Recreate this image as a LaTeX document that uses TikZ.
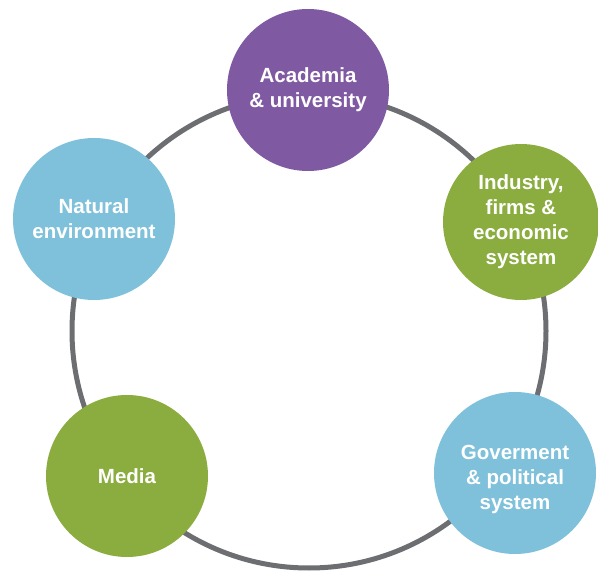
\documentclass[tikz,border=0pt]{standalone}
\usepackage{fontspec}
\setmainfont{Liberation Sans}
\usepackage{xcolor}
\definecolor{ringgray}{HTML}{6D6E71}
\definecolor{acadpurple}{HTML}{7F5AA2}
\definecolor{indgreen}{HTML}{8BAD3F}
\definecolor{envblue}{HTML}{7FC1DA}
\begin{document}
\begin{tikzpicture}[x=1pt,y=-1pt]
			\useasboundingbox (0,0) rectangle (598,572);
			\tikzstyle{ring} = [circle,draw=ringgray,line width=5pt,minimum size=474pt,inner sep=0pt]
			\tikzstyle{actor} = [circle,draw=none,minimum size=162pt,inner sep=0pt,text=white,align=center,font=\fontsize{20.5}{25}\selectfont\bfseries]
			\node[ring] (ring) at (309,331) {};
			\node[actor,fill=acadpurple] (acad) at (308,90) {Academia\\\& university};
			\node[actor,fill=indgreen,minimum size=156pt] (ind) at (521,222) {Industry,\\firms \&\\economic\\system};
			\node[actor,fill=envblue] (gov) at (515,473) {\rule{0pt}{27pt}Goverment\\\& political\\system};
			\node[actor,fill=indgreen] (media) at (127,476) {Media};
			\node[actor,fill=envblue] (nat) at (94,219) {Natural\\environment};
\end{tikzpicture}
\end{document}
